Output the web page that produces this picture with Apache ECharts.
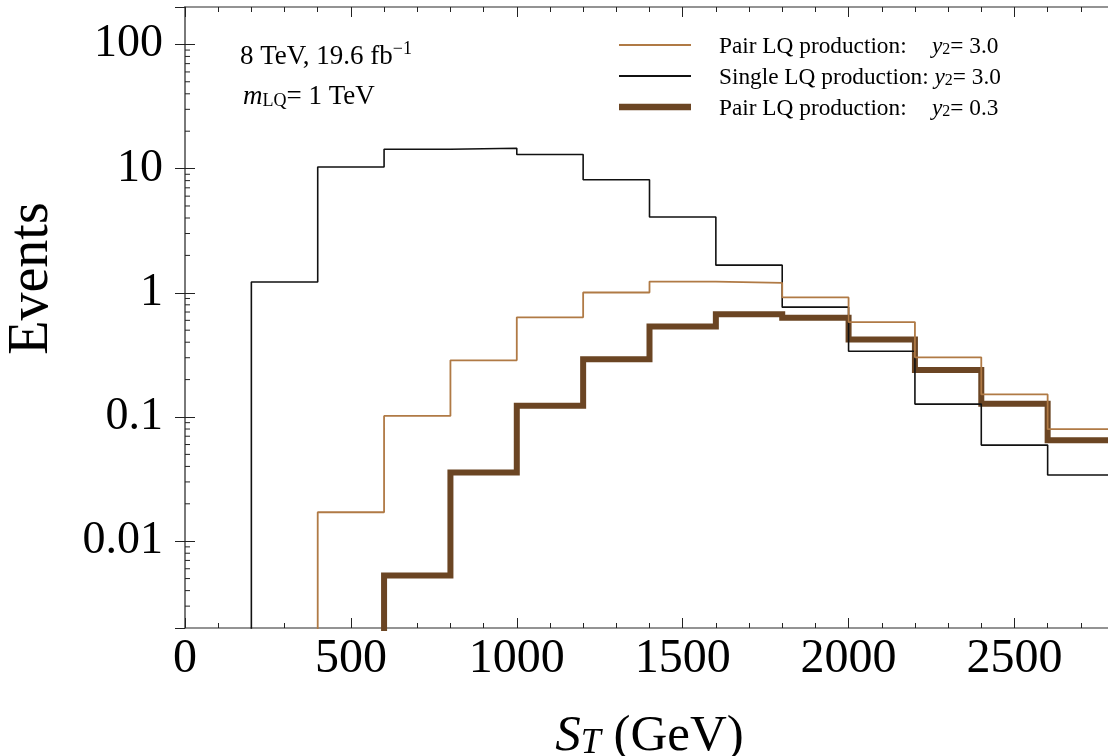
<!DOCTYPE html>
<html><head><meta charset="utf-8">
<script src="https://cdn.jsdelivr.net/npm/echarts@6/dist/echarts.min.js"></script>
<style>html,body{margin:0;padding:0;background:#fff}#c{width:1108px;height:756px}</style>
</head><body><div id="c"></div>
<script>
// bin edges (GeV)
const binEdges = [0, 200, 400, 600, 800, 1000, 1200, 1400, 1600, 1800, 2000, 2200, 2400, 2600, 2800];
// value used for bins that lie below the visible range
const BELOW = 1e-4;
// events per bin (14 bins)
const pairY30   = [BELOW, BELOW, 0.0171, 0.102, 0.286, 0.634, 1.005, 1.23, 1.20, 0.917, 0.581, 0.302, 0.152, 0.0798];
const singleY30 = [BELOW, 1.22, 10.3, 14.3, 14.6, 13.0, 8.13, 4.08, 1.67, 0.766, 0.338, 0.127, 0.0594, 0.0341];
const pairY03   = [BELOW, BELOW, BELOW, 0.0053, 0.0358, 0.123, 0.291, 0.536, 0.673, 0.630, 0.421, 0.239, 0.128, 0.0651];
const seriesNames = ['Pair LQ production: y2= 3.0', 'Single LQ production: y2= 3.0', 'Pair LQ production: y2= 0.3'];
const seriesColors = ['#b07a45', '#111111', '#6b4523'];
const yTickLabels = ['0.01', '0.1', '1', '10', '100'];
const yMinorMantissa = [2, 3, 4, 5, 6, 7, 8, 9];
const yMinorDecades = [0.001, 0.01, 0.1, 1, 10, 100];

const SERIF = 'Liberation Serif';
function stepData(vals) {
  const d = vals.map((v, i) => [binEdges[i], v]);
  d.push([binEdges[binEdges.length - 1], vals[vals.length - 1]]);
  return d;
}
const minorTicks = [];
yMinorDecades.forEach(d => yMinorMantissa.forEach(m => {
  const v = +(m * d).toPrecision(3);
  if (v > 0.002 && v < 200) minorTicks.push([0, v]);
}));

// legend icons: horizontal bars of given thickness inside a 72x14 box
function barIcon(th) {
  const y0 = (14 - th) / 2, y1 = y0 + th;
  return 'path://M0,0 M72,14 M0,' + y0 + ' L72,' + y0 + ' L72,' + y1 + ' L0,' + y1 + ' Z';
}

const chart = echarts.init(document.getElementById('c'), null, {renderer: 'canvas'});
const axisLineStyle = {color: '#707070', width: 1.5};
const tickStyle = {color: '#222', width: 1};
const xCommon = {
  type: 'value', min: 0, max: 2800, interval: 500,
  axisLine: {show: true, onZero: false, lineStyle: axisLineStyle},
  axisTick: {show: true, inside: true, length: 10, lineStyle: tickStyle},
  minorTick: {show: true, splitNumber: 5, length: 5, lineStyle: tickStyle},
  splitLine: {show: false}, minorSplitLine: {show: false}
};
const yCommon = {
  type: 'log', logBase: 10, min: 0.002, max: 200,
  axisLine: {show: true, lineStyle: axisLineStyle},
  axisTick: {show: true, inside: true, length: 10, lineStyle: tickStyle},
  splitLine: {show: false}
};
const LF = 23.3;
const legendRich = {
  a: {fontFamily: SERIF, fontSize: LF, color: '#000', width: 213, lineHeight: 26, verticalAlign: 'bottom'},
  a2: {fontFamily: SERIF, fontSize: LF, color: '#000', lineHeight: 26, verticalAlign: 'bottom'},
  y: {fontFamily: SERIF, fontSize: LF, fontStyle: 'italic', color: '#000', lineHeight: 26, verticalAlign: 'bottom'},
  s: {fontFamily: SERIF, fontSize: 16, color: '#000', lineHeight: 11, verticalAlign: 'bottom'},
  b: {fontFamily: SERIF, fontSize: LF, color: '#000', lineHeight: 26, verticalAlign: 'bottom'}
};
const option = {
  animation: false,
  backgroundColor: '#fff',
  grid: {left: 185, top: 7, width: 929, height: 621, containLabel: false, outerBoundsMode: 'none'},
  legend: {
    data: seriesNames.map((n, i) => ({
      name: n,
      icon: barIcon(i === 2 ? 6.5 : (i === 0 ? 2 : 1.8)),
      itemStyle: {color: seriesColors[i], borderWidth: 0}
    })),
    orient: 'vertical', left: 614, top: 30,
    itemWidth: 72, itemHeight: 14, itemGap: 8,
    selectedMode: false,
    formatter: function (name) {
      const i = seriesNames.indexOf(name);
      const val = i === 2 ? '= 0.3' : '= 3.0';
      const lab = i === 1 ? '{a2|Single LQ production: }' : '{a|Pair LQ production:}';
      return lab + '{y|y}{s|2}{b|' + val + '}';
    },
    textStyle: {padding: [0, 0, 0, 23], rich: legendRich}
  },
  graphic: [
    {type: 'text', left: 240, top: 40, z: 10, style: {
      text: '{n|8 TeV, 19.6 fb}{p|−1}',
      rich: {
        n: {fontFamily: SERIF, fontSize: 27, fill: '#000', lineHeight: 30, verticalAlign: 'bottom'},
        p: {fontFamily: SERIF, fontSize: 18, fill: '#000', lineHeight: 14, verticalAlign: 'top'}
      }}},
    {type: 'text', left: 243, top: 83, z: 10, style: {
      text: '{i|m}{s|LQ}{n|= 1 TeV}',
      rich: {
        i: {fontFamily: SERIF, fontSize: 27, fontStyle: 'italic', fill: '#000', lineHeight: 30, verticalAlign: 'bottom'},
        s: {fontFamily: SERIF, fontSize: 18, fill: '#000', lineHeight: 12, verticalAlign: 'bottom'},
        n: {fontFamily: SERIF, fontSize: 27, fill: '#000', lineHeight: 30, verticalAlign: 'bottom'}
      }}}
  ],
  xAxis: [
    Object.assign({}, xCommon, {
      position: 'bottom',
      axisLabel: {show: true, fontFamily: SERIF, fontSize: 48, color: '#000', margin: 7,
        showMaxLabel: false,
        formatter: function (v) { return v > 2700 ? '' : String(v); }},
      name: '{i|S}{t|T}{n| (GeV)}', nameLocation: 'middle', nameGap: 80,
      nameTextStyle: {
        rich: {
          i: {fontFamily: SERIF, fontSize: 51, fontStyle: 'italic', color: '#000', lineHeight: 54, verticalAlign: 'bottom'},
          t: {fontFamily: SERIF, fontSize: 36, fontStyle: 'italic', color: '#000', lineHeight: 30, verticalAlign: 'bottom'},
          n: {fontFamily: SERIF, fontSize: 51, color: '#000', lineHeight: 54, verticalAlign: 'bottom'}
        }
      }
    }),
    Object.assign({}, xCommon, {position: 'top', axisLabel: {show: false}})
  ],
  yAxis: [
    Object.assign({}, yCommon, {
      position: 'left',
      axisLabel: {
        show: true, fontFamily: SERIF, fontSize: 46, color: '#000', margin: 22,
        showMinLabel: false, showMaxLabel: false,
        formatter: function (v) {
          const e = Math.round(Math.log10(v));
          const idx = e + 2;
          return (Math.abs(Math.log10(v) - e) < 1e-6 && idx >= 0 && idx < yTickLabels.length) ? yTickLabels[idx] : '';
        }
      },
      name: 'Events', nameLocation: 'middle', nameGap: 125, nameRotate: 90,
      nameTextStyle: {fontFamily: SERIF, fontSize: 56, color: '#000', padding: [0, 0, 0, 78]}
    }),
    Object.assign({}, yCommon, {position: 'right', axisLabel: {show: false}})
  ],
  series: [
    {type: 'custom', name: 'minorTicks', coordinateSystem: 'cartesian2d', xAxisIndex: 0, yAxisIndex: 0,
      clip: false, silent: true, z: 1, data: minorTicks, encode: {x: 0, y: 1},
      renderItem: function (params, api) {
        const v = api.value(1);
        const pL = api.coord([0, v]);
        const pR = api.coord([2800, v]);
        return {type: 'group', children: [
          {type: 'line', shape: {x1: pL[0], y1: pL[1], x2: pL[0] + 5, y2: pL[1]}, style: {stroke: '#222', lineWidth: 1}},
          {type: 'line', shape: {x1: pR[0], y1: pR[1], x2: pR[0] - 5, y2: pR[1]}, style: {stroke: '#222', lineWidth: 1}}
        ]};
      }},
    {type: 'line', name: seriesNames[2], data: stepData(pairY03), step: 'end', showSymbol: false, symbol: 'none',
      lineStyle: {color: seriesColors[2], width: 6, join: 'miter'}, itemStyle: {color: seriesColors[2]}, z: 2},
    {type: 'line', name: seriesNames[1], data: stepData(singleY30), step: 'end', showSymbol: false, symbol: 'none',
      lineStyle: {color: seriesColors[1], width: 1.6}, itemStyle: {color: seriesColors[1]}, z: 3},
    {type: 'line', name: seriesNames[0], data: stepData(pairY30), step: 'end', showSymbol: false, symbol: 'none',
      lineStyle: {color: seriesColors[0], width: 1.8}, itemStyle: {color: seriesColors[0]}, z: 4}
  ]
};
chart.setOption(option);
</script>
</body></html>
